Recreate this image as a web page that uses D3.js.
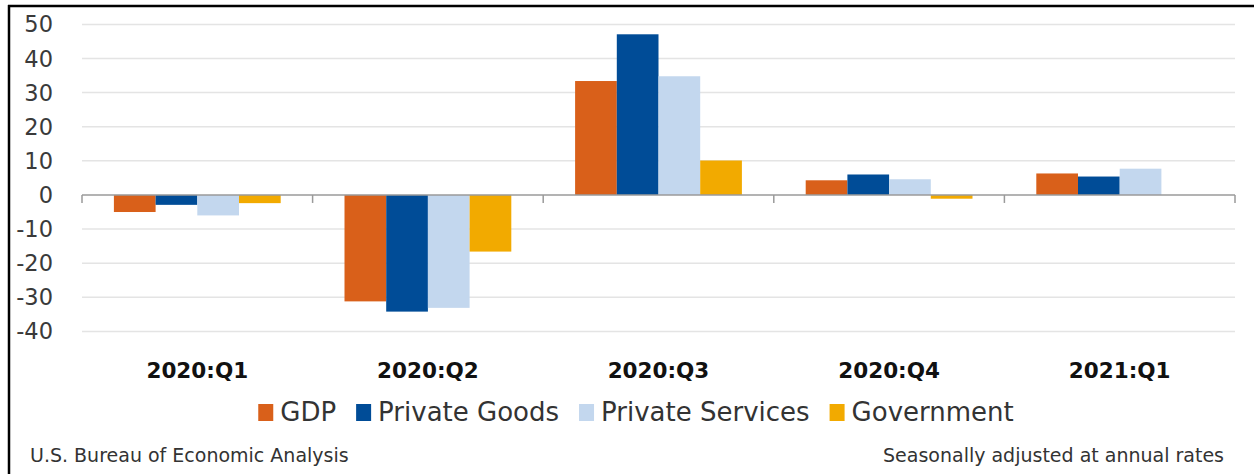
<!DOCTYPE html>
<html>
<head>
    <title></title>
    <meta charset="utf-8">
    <style>
        body { margin: 0; background: #fff; }
        text { font-family: "DejaVu Sans", sans-serif; }
    </style>
</head>
<body>
<script src="https://d3js.org/d3.v7.min.js"></script>
<script>
    // quarters and the four series (percent change, annual rate)
    var quarters = ['2020:Q1', '2020:Q2', '2020:Q3', '2020:Q4', '2021:Q1'];
    var seriesNames = ['GDP', 'Private Goods', 'Private Services', 'Government'];
    var gdp = [-5.0, -31.2, 33.4, 4.3, 6.3];
    var privateGoods = [-2.9, -34.2, 47.1, 6.0, 5.4];
    var privateServices = [-6.0, -33.1, 34.8, 4.6, 7.7];
    var government = [-2.4, -16.6, 10.1, -1.1, null];
    var yTicks = [-40, -30, -20, -10, 0, 10, 20, 30, 40, 50];
    var colors = ['#D9601A', '#004C97', '#C3D7EE', '#F2AA00'];

    var allSeries = [gdp, privateGoods, privateServices, government];

    var W = 1254, H = 474;
    var svg = d3.select('body').append('svg')
        .attr('width', W)
        .attr('height', H);

    var left = 82, right = 1235;

    var x0 = d3.scaleBand().domain(quarters).range([left, right]);
    var x1 = d3.scaleBand().domain(seriesNames).range([0, x0.bandwidth()]).paddingOuter(0.765);
    var y = d3.scaleLinear().domain([-40, 50]).range([331.4, 24.4]);

    // gridlines
    svg.append('g').selectAll('line')
        .data(yTicks.filter(function (d) { return d !== 0; }))
        .enter().append('line')
        .attr('x1', left).attr('x2', right)
        .attr('y1', function (d) { return y(d); })
        .attr('y2', function (d) { return y(d); })
        .style('stroke', '#e4e4e4')
        .style('stroke-width', 1.5);

    // y labels
    svg.append('g').selectAll('text')
        .data(yTicks)
        .enter().append('text')
        .attr('x', 53)
        .attr('y', function (d) { return y(d) + 8; })
        .attr('text-anchor', 'end')
        .style('font-size', '22.5px')
        .style('fill', '#3a3a3a')
        .text(function (d) { return d; });

    // bars
    var groups = svg.append('g').selectAll('g')
        .data(quarters)
        .enter().append('g')
        .attr('transform', function (d) { return 'translate(' + x0(d) + ',0)'; });

    groups.selectAll('rect')
        .data(function (q, qi) {
            return seriesNames.map(function (s, si) {
                return { s: s, v: allSeries[si][qi], c: colors[si] };
            }).filter(function (d) { return d.v !== null; });
        })
        .enter().append('rect')
        .attr('x', function (d) { return x1(d.s); })
        .attr('width', x1.bandwidth())
        .attr('y', function (d) { return y(Math.max(0, d.v)); })
        .attr('height', function (d) { return Math.abs(y(d.v) - y(0)); })
        .style('fill', function (d) { return d.c; });

    // zero line and category ticks
    svg.append('line')
        .attr('x1', left).attr('x2', right)
        .attr('y1', y(0)).attr('y2', y(0))
        .style('stroke', '#9a9a9a')
        .style('stroke-width', 1.5);

    var tickXs = quarters.map(function (q) { return x0(q); }).concat([right]);
    svg.append('g').selectAll('line')
        .data(tickXs)
        .enter().append('line')
        .attr('x1', function (d) { return d; }).attr('x2', function (d) { return d; })
        .attr('y1', y(0)).attr('y2', y(0) + 8)
        .style('stroke', '#9a9a9a')
        .style('stroke-width', 1.5);

    // category labels
    svg.append('g').selectAll('text')
        .data(quarters)
        .enter().append('text')
        .attr('x', function (d) { return x0(d) + x0.bandwidth() / 2; })
        .attr('y', 378)
        .attr('text-anchor', 'middle')
        .style('font-size', '21.5px')
        .style('font-weight', 'bold')
        .style('fill', '#111')
        .text(function (d) { return d; });

    // legend
    var legend = svg.append('g');
    var lx = 0;
    seriesNames.forEach(function (s, i) {
        var item = legend.append('g').attr('transform', 'translate(' + lx + ',0)');
        item.append('rect')
            .attr('x', 0).attr('y', 404)
            .attr('width', 15).attr('height', 17)
            .style('fill', colors[i]);
        var t = item.append('text')
            .attr('x', 22).attr('y', 421)
            .style('font-size', '26px')
            .style('fill', '#333')
            .text(s);
        lx += 22 + t.node().getComputedTextLength() + 20;
    });
    var legendW = lx - 20;
    legend.attr('transform', 'translate(' + (636 - legendW / 2) + ',0)');

    // footer notes
    svg.append('text')
        .attr('x', 30).attr('y', 462)
        .style('font-size', '19px')
        .style('fill', '#333')
        .text('U.S. Bureau of Economic Analysis');
    svg.append('text')
        .attr('x', 1224).attr('y', 462)
        .attr('text-anchor', 'end')
        .style('font-size', '19px')
        .style('fill', '#333')
        .text('Seasonally adjusted at annual rates');

    // frame: top and left edge
    svg.append('line')
        .attr('x1', 8).attr('x2', W).attr('y1', 6).attr('y2', 6)
        .style('stroke', '#000').style('stroke-width', 2.5);
    svg.append('line')
        .attr('x1', 9).attr('x2', 9).attr('y1', 5).attr('y2', H)
        .style('stroke', '#000').style('stroke-width', 2.5);
</script>
</body>
</html>
